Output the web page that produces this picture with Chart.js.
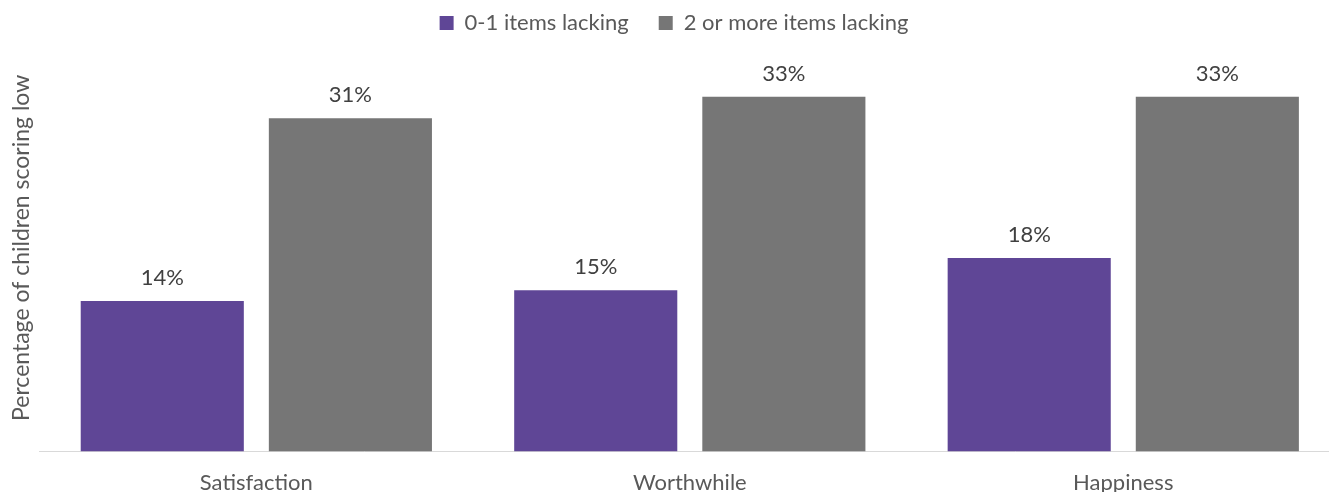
<!DOCTYPE html>
<html>
<head>
<meta charset="utf-8">
<script src="https://cdn.jsdelivr.net/npm/chart.js@4.4.0/dist/chart.umd.min.js"></script>
<style>
  html, body { margin: 0; padding: 0; background: #fff; overflow: hidden; }
  #wrap { position: absolute; left: 0; top: -18px; width: 1340px; height: 532px; }
</style>
</head>
<body>
<div id="wrap"><canvas id="myChart" width="1340" height="532"></canvas></div>
<script>
const categories = ["Satisfaction", "Worthwhile", "Happiness"];
const lowLacking = [14, 15, 18];   // 0-1 items lacking
const highLacking = [31, 33, 33];  // 2 or more items lacking
const seriesNames = ["0-1 items lacking", "2 or more items lacking"];

const FONT = "Lato, 'Open Sans', sans-serif";

// draws the % labels above each bar
const barLabels = {
  id: "barLabels",
  afterDatasetsDraw(chart) {
    const ctx = chart.ctx;
    ctx.save();
    ctx.font = "22px " + FONT;
    ctx.fillStyle = "#404040";
    ctx.textAlign = "center";
    ctx.textBaseline = "alphabetic";
    chart.data.datasets.forEach((ds, i) => {
      chart.getDatasetMeta(i).data.forEach((bar, j) => {
        ctx.fillText(ds.data[j] + "%", bar.x, bar.y - 16);
      });
    });
    ctx.restore();
  },
};

const data = {
  labels: categories,
  datasets: [
    {
      label: seriesNames[0],
      data: lowLacking,
      backgroundColor: "#5F4696",
      categoryPercentage: 0.868,
      barPercentage: 0.867,
    },
    {
      label: seriesNames[1],
      data: highLacking,
      backgroundColor: "#767676",
      categoryPercentage: 0.868,
      barPercentage: 0.867,
    },
  ],
};

const config = {
  type: "bar",
  data: data,
  plugins: [barLabels],
  options: {
    responsive: false,
    animation: false,
    layout: { padding: { left: 8, right: 0, top: 0, bottom: 0 } },
    plugins: {
      tooltip: { enabled: false },
      legend: {
        position: "top",
        labels: {
          boxWidth: 14,
          boxHeight: 14,
          padding: 30,
          color: "#595959",
          font: { family: FONT, size: 22 },
        },
      },
    },
    scales: {
      x: {
        grid: { display: false, drawTicks: false },
        border: { display: true, color: "#d9d9d9", width: 1 },
        ticks: { color: "#595959", padding: 18, font: { family: FONT, size: 22 } },
      },
      y: {
        min: 0,
        max: 37.9,
        grid: { display: false, drawTicks: false },
        border: { display: false },
        ticks: { display: false },
        title: {
          display: true,
          text: "Percentage of children scoring low",
          color: "#595959",
          font: { family: FONT, size: 23 },
          padding: { top: 0, bottom: 4 },
        },
      },
    },
  },
};

const myChart = new Chart(document.getElementById("myChart"), config);
</script>
</body>
</html>
